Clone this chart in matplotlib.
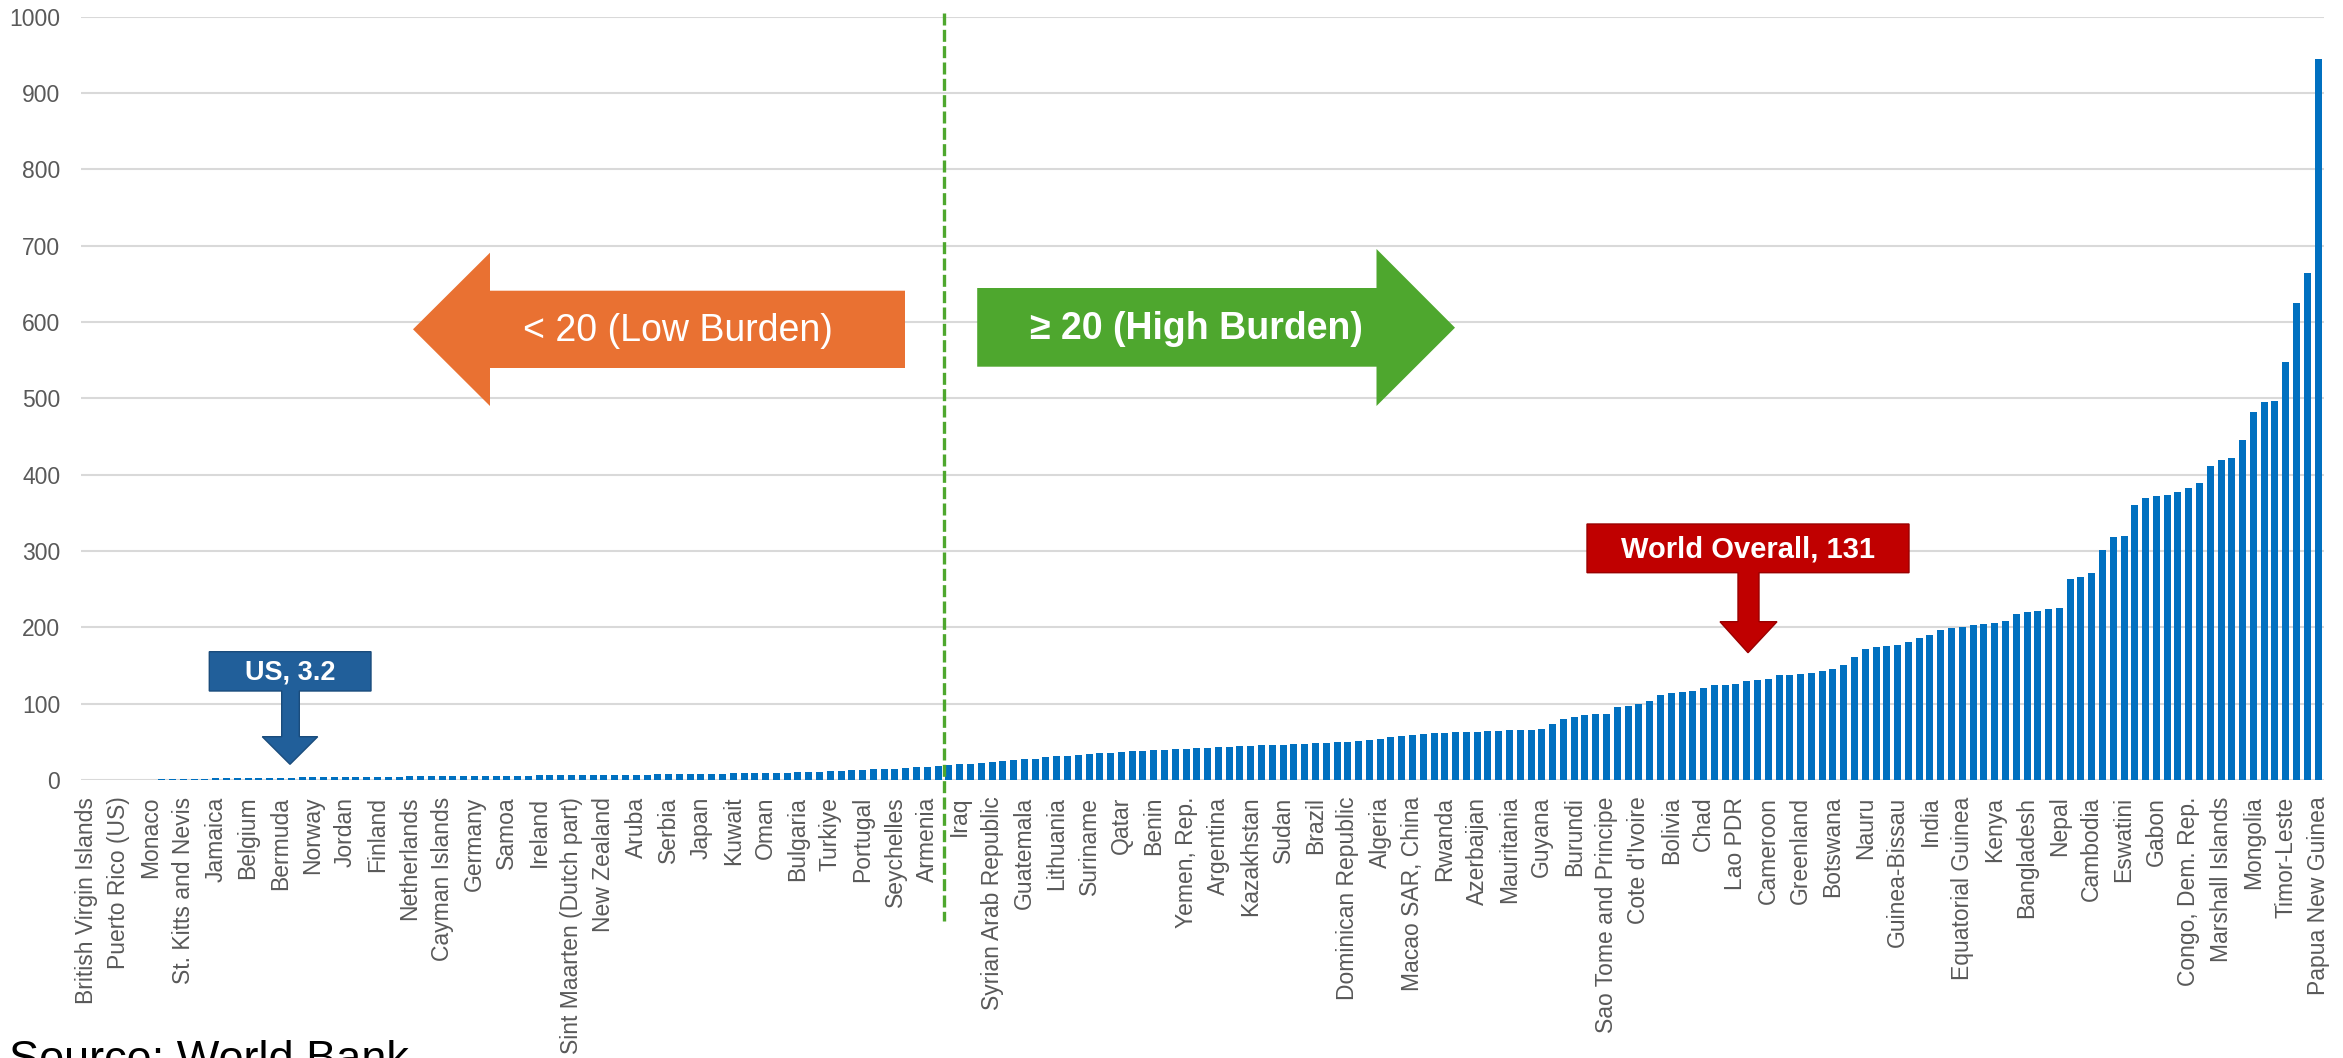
import matplotlib
matplotlib.use("Agg")
import matplotlib.pyplot as plt
from matplotlib.patches import Polygon
from matplotlib.lines import Line2D
import matplotlib.transforms as mtransforms

# ---------------- data ----------------
labels = [
    "British Virgin Islands", "Puerto Rico (US)", "Monaco", "St. Kitts and Nevis", "Jamaica",
    "Belgium", "Bermuda", "Norway", "Jordan", "Finland", "Netherlands", "Cayman Islands",
    "Germany", "Samoa", "Ireland", "Sint Maarten (Dutch part)", "New Zealand", "Aruba",
    "Serbia", "Japan", "Kuwait", "Oman", "Bulgaria", "Turkiye", "Portugal", "Seychelles",
    "Armenia", "Iraq", "Syrian Arab Republic", "Guatemala", "Lithuania", "Suriname", "Qatar",
    "Benin", "Yemen, Rep.", "Argentina", "Kazakhstan", "Sudan", "Brazil", "Dominican Republic",
    "Algeria", "Macao SAR, China", "Rwanda", "Azerbaijan", "Mauritania", "Guyana", "Burundi",
    "Sao Tome and Principe", "Cote d'Ivoire", "Bolivia", "Chad", "Lao PDR", "Cameroon",
    "Greenland", "Botswana", "Nauru", "Guinea-Bissau", "India", "Equatorial Guinea", "Kenya",
    "Bangladesh", "Nepal", "Cambodia", "Eswatini", "Gabon", "Congo, Dem. Rep.",
    "Marshall Islands", "Mongolia", "Timor-Leste", "Papua New Guinea",
]
label_step = 3  # every third country is labelled on the axis

low_values = [
    0.0, 0.0, 0.0, 0.3, 0.4, 0.5, 0.6, 0.8, 1.0, 1.2,
    1.4, 1.7, 2.0, 2.2, 2.4, 2.6, 2.8, 2.9, 3.1, 3.2,
    3.3, 3.4, 3.6, 3.7, 3.9, 4.0, 4.1, 4.3, 4.4, 4.5,
    4.6, 4.8, 4.9, 5.0, 5.1, 5.2, 5.3, 5.4, 5.5, 5.6,
    5.7, 5.8, 5.9, 6.0, 6.1, 6.2, 6.3, 6.5, 6.6, 6.8,
    6.9, 7.0, 7.2, 7.3, 7.5, 7.7, 7.9, 8.1, 8.2, 8.4,
    8.6, 8.8, 9.0, 9.2, 9.5, 9.8, 10.2, 10.6, 11.0, 11.5,
    12.0, 12.6, 13.2, 13.8, 14.3, 14.8, 15.5, 16.5, 17.5, 18.5,
]
high_values = [
    20.2, 20.8, 21.5, 22.3, 23.0, 24.5, 26.0, 27.0, 28.0, 29.5,
    31.0, 32.0, 33.0, 34.0, 35.0, 35.5, 36.5, 37.5, 38.0, 39.0,
    39.5, 40.0, 40.5, 41.5, 42.0, 43.0, 43.5, 44.0, 45.0, 45.5,
    46.0, 46.5, 47.0, 47.5, 48.0, 48.5, 49.5, 50.0, 51.0, 52.0,
    54.0, 56.0, 57.5, 59.0, 60.0, 61.0, 62.0, 62.5, 63.0, 63.5,
    64.0, 64.5, 65.0, 65.5, 66.0, 67.0, 74.0, 80.0, 83.0, 85.0,
    86.0, 87.0, 95.0, 97.0, 99.0, 104.0, 112.0, 114.0, 115.0, 116.0,
    121.0, 124.0, 125.0, 126.0, 130.0, 131.0, 132.0, 137.0, 138.0, 138.5,
    140.0, 143.0, 146.0, 151.0, 161.0, 171.5, 174.7, 175.6, 177.0, 181.0,
    186.0, 190.0, 196.0, 199.0, 200.0, 203.0, 204.0, 206.0, 208.0, 218.0,
    220.0, 222.0, 224.0, 226.0, 264.0, 266.0, 271.0, 302.0, 318.0, 320.0,
    360.0, 370.0, 372.0, 373.0, 377.0, 382.0, 389.0, 411.0, 419.0, 422.0,
    446.0, 482.0, 495.0, 496.0, 548.0, 625.0, 664.0, 945.0,
]
values = low_values + high_values

y_ticks = [0, 100, 200, 300, 400, 500, 600, 700, 800, 900, 1000]
threshold_gap = len(low_values) - 0.5  # boundary between < 20 and >= 20

# ---------------- figure ----------------
W, H = 2343, 1058
fig = plt.figure(figsize=(W / 100, H / 100), dpi=100)
plt.rcParams['font.family'] = ['Liberation Sans', 'DejaVu Sans']

n = len(values)
ax_left_px, ax_right_px = 81.0, 2323.5
ax_top_px, ax_bot_px = 16.8, 780.0
ax = fig.add_axes([ax_left_px / W, 1 - ax_bot_px / H,
                   (ax_right_px - ax_left_px) / W, (ax_bot_px - ax_top_px) / H])

x = list(range(n))
ax.bar(x, values, width=0.65, color='#0070C0', zorder=3)
ax.set_xlim(-0.5, n - 0.5)
ax.set_ylim(0, 1000)
ax.set_yticks(y_ticks)
ax.set_yticklabels([str(v) for v in y_ticks])
ax.set_xticks(list(range(0, n, label_step)))
ax.set_xticklabels(labels, rotation=90)
ax.tick_params(axis='both', length=0, labelsize=16.5, labelcolor='#595959')
ax.tick_params(axis='y', pad=15)
ax.tick_params(axis='x', pad=12)
ax.yaxis.grid(True, color='#D9D9D9', linewidth=1.5, zorder=0)
ax.set_axisbelow(True)
for s in ax.spines.values():
    s.set_visible(False)


def fp(px, py):
    return (px / W, 1 - py / H)


# threshold dashed line (x in data, y in figure)
blend = mtransforms.blended_transform_factory(ax.transData, fig.transFigure)
fig.add_artist(Line2D([threshold_gap, threshold_gap], [1 - 13 / H, 1 - 921 / H],
                      transform=blend, color='#4EA72E', linewidth=2.4,
                      dashes=(3.6, 1.3), clip_on=False, zorder=5))

# orange left arrow
orange = [(413, 329.3), (490, 252.7), (490, 290.7), (905, 290.7), (905, 368),
          (490, 368), (490, 406)]
fig.add_artist(Polygon([fp(*p) for p in orange], closed=True, transform=fig.transFigure,
                       facecolor='#E97132', edgecolor='none', zorder=6))
fig.text(*fp(678, 331), '< 20 (Low Burden)', color='white', fontsize=27,
         ha='center', va='center', zorder=7)

# green right arrow
green = [(977.2, 288), (1376.5, 288), (1376.5, 249), (1455, 327.7), (1376.5, 406),
         (1376.5, 366.7), (977.2, 366.7)]
fig.add_artist(Polygon([fp(*p) for p in green], closed=True, transform=fig.transFigure,
                       facecolor='#4EA72E', edgecolor='none', zorder=6))
fig.text(*fp(1196, 329), '\u2265 20 (High Burden)', color='white', fontsize=27,
         fontweight='bold', ha='center', va='center', zorder=7)

# US callout
us = [(209.3, 651.7), (371, 651.7), (371, 691), (299.3, 691), (299.3, 736.7),
      (317.7, 736.7), (290, 764.3), (262.3, 736.7), (281.7, 736.7), (281.7, 691),
      (209.3, 691)]
fig.add_artist(Polygon([fp(*p) for p in us], closed=True, transform=fig.transFigure,
                       facecolor='#215F9A', edgecolor='#1A4C7C', linewidth=1, zorder=6))
fig.text(*fp(290, 672), 'US, 3.2', color='white', fontsize=19.5, fontweight='bold',
         ha='center', va='center', zorder=7)

# World callout
world = [(1587, 524), (1909, 524), (1909, 572.7), (1759, 572.7), (1759, 621.7),
         (1777, 621.7), (1748, 652.7), (1720, 621.7), (1738, 621.7), (1738, 572.7),
         (1587, 572.7)]
fig.add_artist(Polygon([fp(*p) for p in world], closed=True, transform=fig.transFigure,
                       facecolor='#C00000', edgecolor='#9A0000', linewidth=1, zorder=6))
fig.text(*fp(1748, 549), 'World Overall, 131', color='white', fontsize=21,
         fontweight='bold', ha='center', va='center', zorder=7)

# source
fig.text(*fp(9, 1072.5), 'Source: World Bank', color='black', fontsize=32.5,
         ha='left', va='baseline')

fig.savefig('out.png', dpi=100, facecolor='white')
